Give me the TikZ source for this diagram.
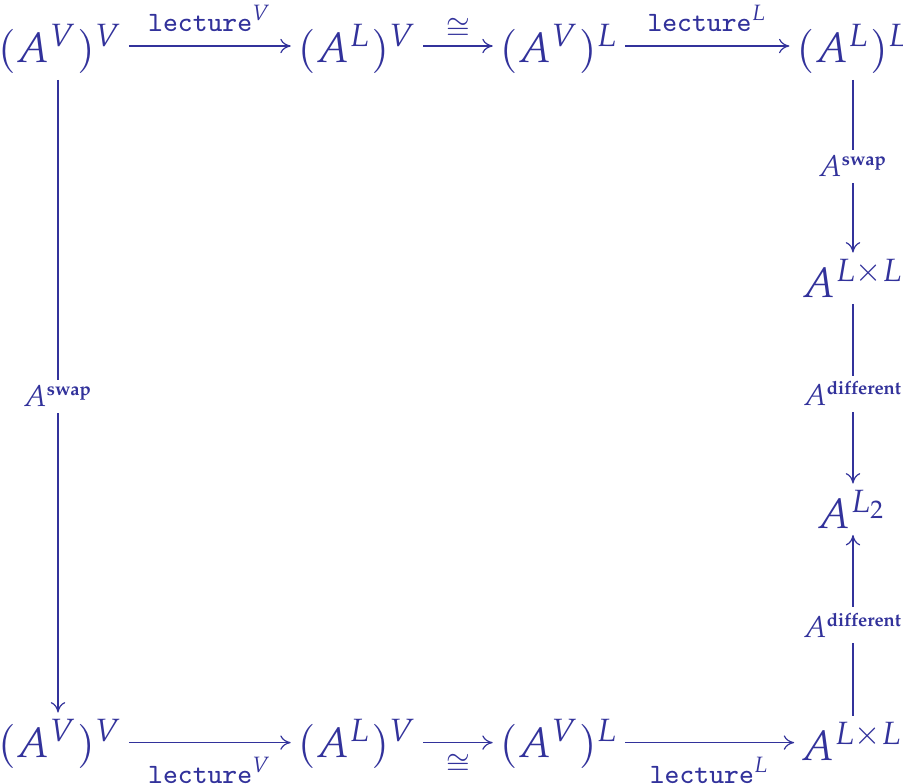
\documentclass[tikz,border=0pt]{standalone}
\usepackage[OT1]{fontenc}
\usepackage{mathpazo}
\usetikzlibrary{arrows.meta}
\definecolor{dc}{RGB}{50,50,155}
\tikzset{
  obj/.style={anchor=base, inner sep=1.5pt, font=\fontsize{10.6}{13}\selectfont, text=dc},
  arr/.style={draw=dc, line width=0.3pt, -{Computer Modern Rightarrow[length=2.6pt,width=3.6pt]}},
  hlab/.style={font=\fontsize{7.3}{8}\selectfont, text=dc, inner sep=1pt},
  vlab/.style={font=\fontsize{7.5}{9}\selectfont, text=dc, fill=white, inner sep=1.5pt},
}
\newcommand\bsup[1]{\mbox{\fontsize{4.6}{5}\selectfont\bfseries #1}}
\newcommand\lect{\mbox{\fontencoding{OT1}\fontfamily{cmtt}\fontseries{m}\fontshape{n}\selectfont lecture}}
\begin{document}
\begin{tikzpicture}[x=0.25pt,y=-0.25pt]
\useasboundingbox (0,0) rectangle (903,784);
% top row
\node[obj] (t1) at (60,62) {$(A^V)^V$};
\node[obj] (t2) at (357,62) {$(A^L)^V$};
\node[obj] (t3) at (559,62) {$(A^V)^L$};
\node[obj] (t4) at (853,62) {$(A^L)^L$};
% right column
\node[obj] (r1) at (853,297) {$A^{L\times L}$};
\node[obj] (r2) at (852,528) {$A^{L_2}$};
% bottom row
\node[obj] (b1) at (60,757) {$(A^V)^V$};
\node[obj] (b2) at (357,757) {$(A^L)^V$};
\node[obj] (b3) at (559,757) {$(A^V)^L$};
\node[obj] (b4) at (852,760) {$A^{L\times L}$};
% top arrows
\draw[arr] ([yshift=4pt]t1.base east) -- ([yshift=4pt]t2.base west)
  node[hlab, midway, above=2.5pt] {$\lect^V$};
\draw[arr] ([yshift=4pt]t2.base east) -- ([yshift=4pt]t3.base west)
  node[hlab, midway, above=0.6pt] {$\cong$};
\draw[arr] ([yshift=4pt]t3.base east) -- ([yshift=4pt]t4.base west)
  node[hlab, midway, above=2.5pt] {$\lect^L$};
% bottom arrows
\draw[arr] ([yshift=3.6pt]b1.base east) -- ([yshift=3.6pt]b2.base west)
  node[hlab, midway, below=2.5pt] {$\lect^V$};
\draw[arr] ([yshift=3.6pt]b2.base east) -- ([yshift=3.6pt]b3.base west)
  node[hlab, midway, below=1.8pt] {$\cong$};
\draw[arr] ([yshift=3.6pt]b3.base east) -- ([yshift=3.6pt]b3.base east -| b4.west)
  node[hlab, midway, below=2.5pt] {$\lect^L$};
% verticals
\draw[arr] ([xshift=-0.5pt]t1.south) -- ([xshift=-0.5pt]b1.north)
  node[vlab, midway] {$A^{\bsup{swap}}$};
\draw[arr] (t4.south) -- (t4.south |- r1.north)
  node[vlab, midway] {$A^{\bsup{swap}}$};
\draw[arr] (t4.south |- r1.south) -- (t4.south |- r2.north)
  node[vlab, midway] {$A^{\bsup{different}}$};
\draw[arr] (t4.south |- b4.north) -- (t4.south |- r2.south)
  node[vlab, midway] {$A^{\bsup{different}}$};
\end{tikzpicture}
\end{document}
